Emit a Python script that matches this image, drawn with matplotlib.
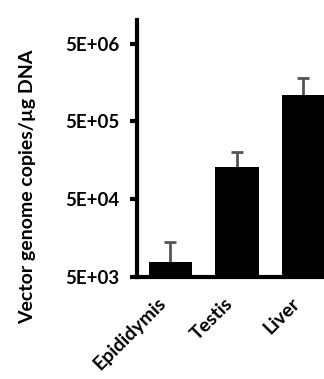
import matplotlib.pyplot as plt
import matplotlib.transforms as mtransforms
from matplotlib.ticker import FixedLocator, NullLocator

tissues = ['Epididymis', 'Testis', 'Liver']
means = [7.8e3, 1.3e5, 1.09e6]
upper = [1.39e4, 2.02e5, 1.82e6]
ytick_vals = [5e3, 5e4, 5e5, 5e6]
ytick_labels = ['5E+03', '5E+04', '5E+05', '5E+06']

plt.rcParams['font.family'] = ['Lato', 'DejaVu Sans']
plt.rcParams['font.weight'] = 'bold'

fig = plt.figure(figsize=(3.24, 3.79), dpi=100)
ax = fig.add_axes([0.423, 0.269, 0.6, 0.678])

x = list(range(len(tissues)))
ax.vlines(x, means, upper, color='#555555', lw=2, zorder=1)
ax.plot(x, upper, ls='none', marker='_', ms=8, mew=2, color='#555555', zorder=1)
ax.bar(x, means, width=0.656, color='black', zorder=2)

ax.set_yscale('log')
ax.set_ylim(5e3, 1e7)
ax.set_xlim(-0.5, 2.42)
ax.yaxis.set_major_locator(FixedLocator(ytick_vals))
ax.yaxis.set_minor_locator(NullLocator())
ax.set_yticklabels(ytick_labels, fontsize=13.5, fontweight='bold')
ax.set_xticks(x)
ax.set_xticklabels(tissues, rotation=45, ha='right', va='center',
                   rotation_mode='anchor', fontsize=14, fontweight='bold')
ax.tick_params(axis='y', width=3, length=5, pad=8)
ax.tick_params(axis='x', length=0, pad=17)

# nudge the slanted labels left a little
shift = mtransforms.ScaledTranslation(-0.07, 0, fig.dpi_scale_trans)
for lbl in ax.get_xticklabels():
    lbl.set_transform(lbl.get_transform() + shift)

for s in ['top', 'right']:
    ax.spines[s].set_visible(False)
for s in ['left', 'bottom']:
    ax.spines[s].set_linewidth(3)

ax.set_ylabel('Vector genome copies/µg DNA', fontsize=14, fontweight='bold')
ax.yaxis.set_label_coords(-0.52, 0.35)

fig.savefig('out.png', dpi=100)
